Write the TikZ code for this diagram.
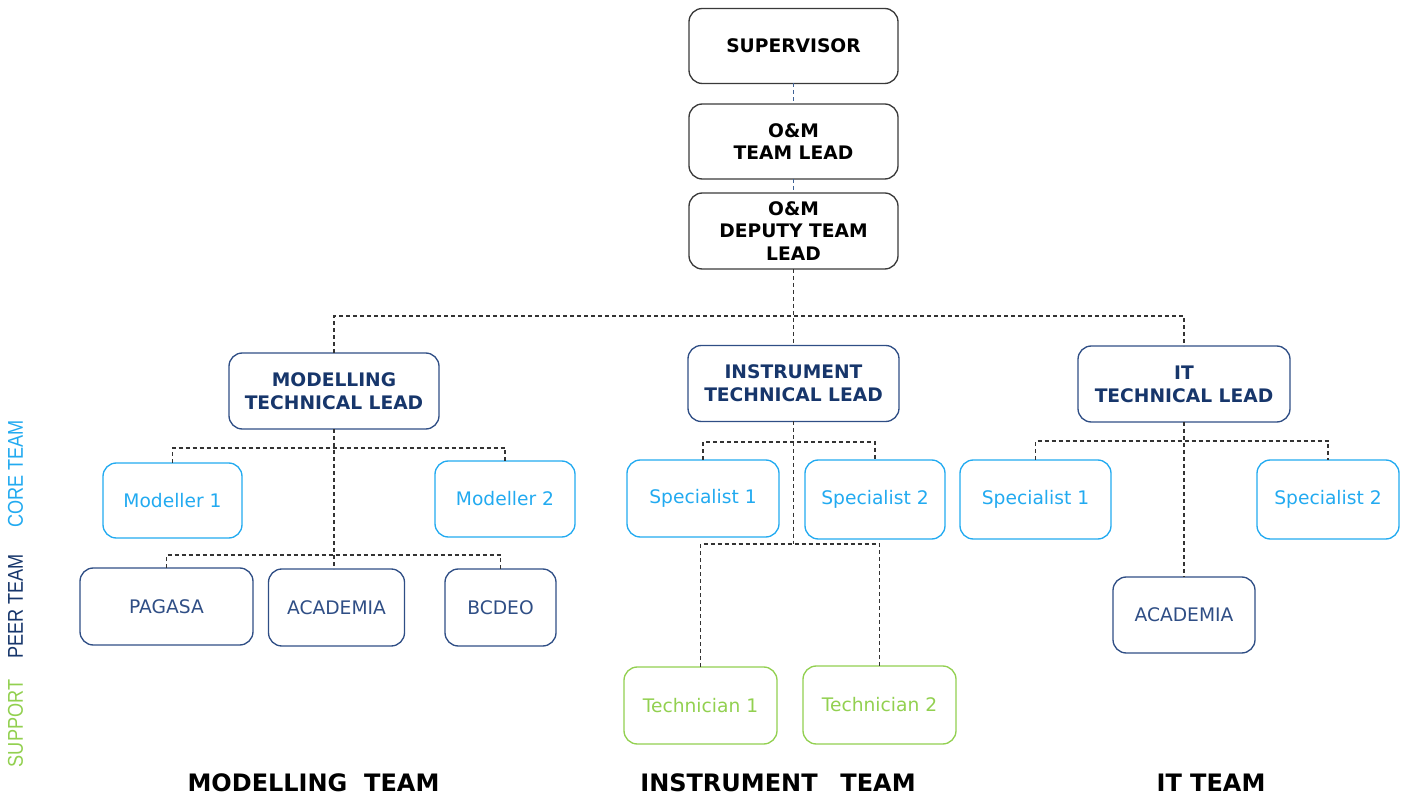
\documentclass[tikz,border=0pt]{standalone}
\usepackage{fontspec}
\setmainfont{DejaVu Sans}
\newfontfamily\sidefont{Liberation Sans}
\usetikzlibrary{positioning}

\definecolor{navy}{HTML}{17366B}
\definecolor{navyline}{HTML}{2F4E85}
\definecolor{corecol}{HTML}{22AAF0}
\definecolor{supcol}{HTML}{92D050}
\definecolor{topline}{HTML}{3A3A3A}
\definecolor{toplink}{HTML}{3F6296}

\tikzset{
  base/.style={rectangle, rounded corners=10pt, line width=1pt, inner sep=0pt, outer sep=0pt,
    align=center, font=\fontsize{14}{17}\selectfont},
  topbox/.style={base, draw=topline, text=black, font=\fontsize{14}{17}\selectfont\bfseries},
  leadbox/.style={base, draw=navyline, text=navy, font=\fontsize{14}{17}\selectfont\bfseries},
  corebox/.style={base, draw=corecol, text=corecol},
  peerbox/.style={base, draw=navyline, text=navyline},
  supbox/.style={base, draw=supcol, text=supcol},
  link/.style={draw=black!80, line width=1.1pt, dash pattern=on 3pt off 2.25pt},
  toplinkstyle/.style={draw=toplink, line width=1.1pt, dash pattern=on 3pt off 2.25pt},
  teamlabel/.style={font=\fontsize{18}{22}\selectfont\bfseries, text=black, inner sep=0pt},
  sidelabel/.style={rotate=90, inner sep=0pt, font=\sidefont\fontsize{13.6}{16}\selectfont}
}

\begin{document}
\begin{tikzpicture}[x=0.75pt, y=-0.75pt]
  \useasboundingbox (0,0) rectangle (1407,798);

  % management chain
  \node[topbox, minimum width=156.75pt, minimum height=56.25pt] (sup) at (793.5,46) {SUPERVISOR};
  \node[topbox, minimum width=156.75pt, minimum height=56.25pt] (tl) at (793.5,141.5) {O\&M\\TEAM LEAD};
  \node[topbox, minimum width=156.75pt, minimum height=57pt] (dep) at (793.5,231) {O\&M\\DEPUTY TEAM\\LEAD};

  % technical leads
  \node[leadbox, minimum width=157.5pt, minimum height=57pt] (modlead) at (334,391) {MODELLING\\TECHNICAL LEAD};
  \node[leadbox, minimum width=158.25pt, minimum height=57pt] (instlead) at (793.5,383.5) {INSTRUMENT\\TECHNICAL LEAD};
  \node[leadbox, minimum width=159pt, minimum height=57pt] (itlead) at (1184,384) {IT\\TECHNICAL LEAD};

  % modelling team
  \node[corebox, minimum width=104.25pt, minimum height=56.25pt] (mod1) at (172.5,500.5) {Modeller 1};
  \node[corebox, minimum width=105pt, minimum height=57pt] (mod2) at (505,499) {Modeller 2};
  \node[peerbox, minimum width=129.75pt, minimum height=57.75pt] (pagasa) at (166.5,606.5) {PAGASA};
  \node[peerbox, minimum width=102pt, minimum height=57.75pt] (macad) at (336.5,607.5) {ACADEMIA};
  \node[peerbox, minimum width=83.25pt, minimum height=57.75pt] (bcdeo) at (500.5,607.5) {BCDEO};

  % instrument team
  \node[corebox, minimum width=114pt, minimum height=57.75pt] (isp1) at (703,498.5) {Specialist 1};
  \node[corebox, minimum width=105pt, minimum height=59.25pt] (isp2) at (875,499.5) {Specialist 2};
  \node[supbox, minimum width=114.75pt, minimum height=57.75pt] (tech1) at (700.5,705.5) {Technician 1};
  \node[supbox, minimum width=114.75pt, minimum height=58.5pt] (tech2) at (879.5,705) {Technician 2};

  % IT team
  \node[corebox, minimum width=113.25pt, minimum height=59.25pt] (tsp1) at (1035.5,499.5) {Specialist 1};
  \node[corebox, minimum width=106.5pt, minimum height=59.25pt] (tsp2) at (1328,499.5) {Specialist 2};
  \node[peerbox, minimum width=106.5pt, minimum height=57pt] (tacad) at (1184,615) {ACADEMIA};

  % bus lines
  \coordinate (leadbus) at (793.5,316);
  \coordinate (mbusA) at (334,448);
  \coordinate (mbusB) at (334,555);
  \coordinate (ibusA) at (793.5,442);
  \coordinate (ibusB) at (793.5,544);
  \coordinate (tbus) at (1184,441);

  % connectors: management chain
  \draw[toplinkstyle] (sup.south) -- (tl.north);
  \draw[toplinkstyle] (tl.south) -- (dep.north);
  \draw[link] (dep.south) -- (instlead.north);
  \draw[link] (modlead.north) |- (itlead.north |- leadbus) -- (itlead.north);

  % connectors: modelling team
  \draw[link] (modlead.south) -- (modlead.south |- macad.north);
  \draw[link] (mod1.north) |- (mod2.north |- mbusA) -- (mod2.north);
  \draw[link] (pagasa.north) |- (bcdeo.north |- mbusB) -- (bcdeo.north);

  % connectors: instrument team
  \draw[link] (instlead.south) -- (instlead.south |- ibusB);
  \draw[link] (isp1.north) |- (isp2.north |- ibusA) -- (isp2.north);
  \draw[link] (tech1.north) |- (tech2.north |- ibusB) -- (tech2.north);

  % connectors: IT team
  \draw[link] (itlead.south) -- (tacad.north);
  \draw[link] (tsp1.north) |- (tsp2.north |- tbus) -- (tsp2.north);

  % team titles
  \node[teamlabel] (tmod) at (313.5,783) {MODELLING\hspace{0.35em} TEAM};
  \node[teamlabel] (tinst) at (778,783) {INSTRUMENT\hspace{0.6em} TEAM};
  \node[teamlabel] (tit) at (1211,783) {IT TEAM};

  % row labels
  \node[sidelabel, text=corecol] (lcore) at (15.5,474) {\scalebox{1}[1.18]{CORE TEAM}};
  \node[sidelabel, text=navy] (lpeer) at (15.5,606.5) {\scalebox{1}[1.18]{PEER TEAM}};
  \node[sidelabel, text=supcol] (lsup) at (15.5,723.5) {\scalebox{1}[1.18]{SUPPORT}};
\end{tikzpicture}
\end{document}
